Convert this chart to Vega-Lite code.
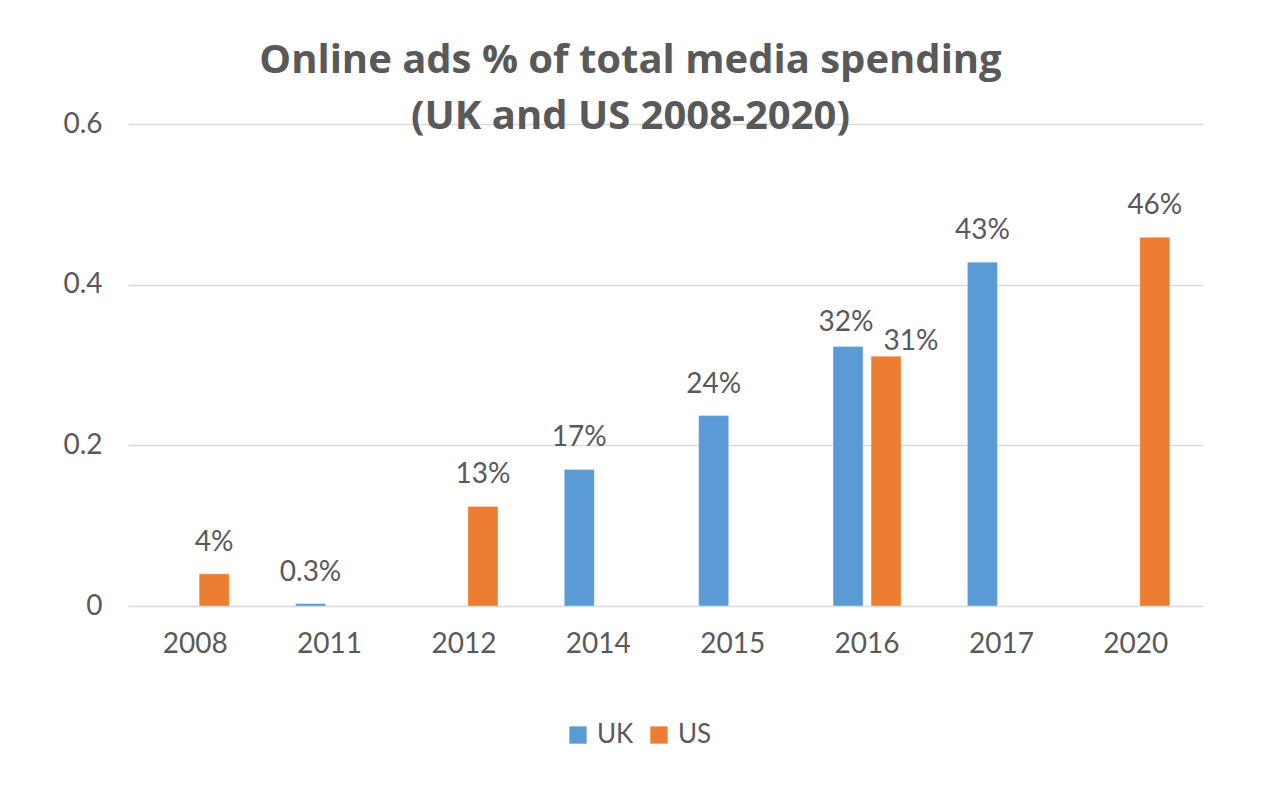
{
  "$schema": "https://vega.github.io/schema/vega-lite/v6.json",
  "width": 1075,
  "height": 482,
  "autosize": {"type": "none"},
  "padding": {"left": 128, "top": 124, "right": 60, "bottom": 185},
  "background": "white",
  "title": {
    "text": ["Online ads % of total media spending", "(UK and US 2008-2020)"],
    "font": "Open Sans",
    "fontSize": 40,
    "fontWeight": "bold",
    "color": "#595959",
    "lineHeight": 56,
    "anchor": "middle",
    "frame": "group",
    "dx": -35,
    "offset": -27
  },
  "data": {
    "values": [
      {"year": "2008", "country": "US", "value": 0.04, "label": "4%"},
      {"year": "2011", "country": "UK", "value": 0.003, "label": "0.3%"},
      {"year": "2012", "country": "US", "value": 0.124, "label": "13%"},
      {"year": "2014", "country": "UK", "value": 0.17, "label": "17%"},
      {"year": "2015", "country": "UK", "value": 0.237, "label": "24%"},
      {"year": "2016", "country": "UK", "value": 0.323, "label": "32%"},
      {"year": "2016", "country": "US", "value": 0.311, "label": "31%"},
      {"year": "2017", "country": "UK", "value": 0.428, "label": "43%"},
      {"year": "2020", "country": "US", "value": 0.459, "label": "46%"}
    ]
  },
  "encoding": {
    "x": {
      "field": "year",
      "type": "nominal",
      "sort": ["2008", "2011", "2012", "2014", "2015", "2016", "2017", "2020"],
      "scale": {"paddingInner": 0.4935, "paddingOuter": 0.2467},
      "axis": {
        "title": null,
        "labelAngle": 0,
        "labelFont": "Lato",
        "labelFontSize": 28,
        "labelColor": "#595959",
        "labelPadding": 24,
        "ticks": false,
        "domain": false,
        "grid": false
      }
    },
    "xOffset": {
      "field": "country",
      "type": "nominal",
      "scale": {"domain": ["UK", "US"], "paddingInner": 0.21, "paddingOuter": 0}
    },
    "y": {
      "field": "value",
      "type": "quantitative",
      "scale": {"domain": [0, 0.6], "nice": false},
      "axis": {
        "title": null,
        "values": [0, 0.2, 0.4, 0.6],
        "format": "~g",
        "labelFont": "Lato",
        "labelFontSize": 28,
        "labelColor": "#595959",
        "labelPadding": 26,
        "ticks": false,
        "domain": false,
        "grid": true,
        "gridColor": "#D9D9D9",
        "gridWidth": 1.5
      }
    }
  },
  "layer": [
    {
      "mark": {"type": "bar", "stroke": "white", "strokeOpacity": 0.35, "strokeWidth": 1},
      "encoding": {
        "color": {
          "field": "country",
          "type": "nominal",
          "scale": {"domain": ["UK", "US"], "range": ["#5B9BD5", "#ED7D31"]},
          "legend": {
            "title": null,
            "orient": "none",
            "direction": "horizontal",
            "legendX": 437,
            "legendY": 598,
            "symbolType": "square",
            "symbolSize": 300,
            "symbolStrokeWidth": 0,
            "labelFont": "Lato",
            "labelFontSize": 26,
            "labelColor": "#595959",
            "labelOffset": 6,
            "columnPadding": 12
          }
        }
      }
    },
    {
      "transform": [{"filter": "datum.year != '2016'"}],
      "mark": {"type": "text", "baseline": "middle", "dy": -31, "font": "Lato", "fontSize": 28, "color": "#595959"},
      "encoding": {"text": {"field": "label"}}
    },
    {
      "transform": [{"filter": "datum.year == '2016' && datum.country == 'UK'"}],
      "mark": {"type": "text", "baseline": "middle", "dy": -24, "dx": -2, "font": "Lato", "fontSize": 28, "color": "#595959"},
      "encoding": {"text": {"field": "label"}}
    },
    {
      "transform": [{"filter": "datum.year == '2016' && datum.country == 'US'"}],
      "mark": {"type": "text", "baseline": "middle", "dy": -14, "dx": 25, "font": "Lato", "fontSize": 28, "color": "#595959"},
      "encoding": {"text": {"field": "label"}}
    }
  ],
  "config": {"view": {"stroke": null}}
}
